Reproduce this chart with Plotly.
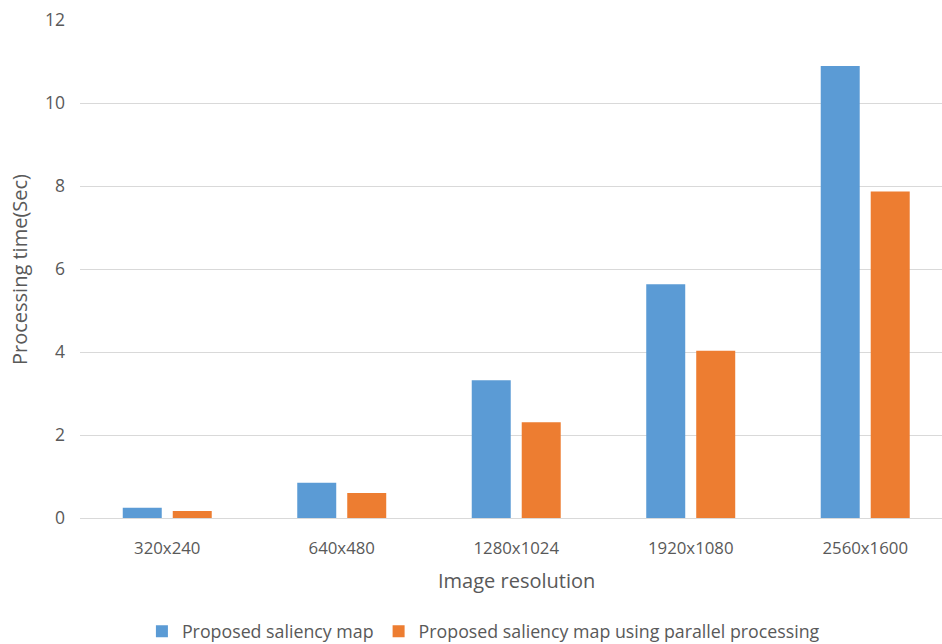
import plotly.graph_objects as go

categories = ["320x240", "640x480", "1280x1024", "1920x1080", "2560x1600"]
saliency = [0.25, 0.85, 3.32, 5.63, 10.89]
saliency_parallel = [0.17, 0.60, 2.31, 4.03, 7.87]

series_names = ["Proposed saliency map", "Proposed saliency map using parallel processing"]
y_ticks = [0, 2, 4, 6, 8, 10, 12]

FONT = "Open Sans"
GRAY = "#595959"

fig = go.Figure()
fig.add_trace(go.Bar(x=categories, y=saliency, name=series_names[0],
                     marker=dict(color="#5b9bd5", line=dict(width=0))))
fig.add_trace(go.Bar(x=categories, y=saliency_parallel, name=series_names[1],
                     marker=dict(color="#ed7d31", line=dict(width=0))))

fig.update_layout(
    width=942, height=644,
    margin=dict(l=80, r=0, t=20, b=126, autoexpand=False),
    plot_bgcolor="white", paper_bgcolor="white",
    font=dict(family=FONT, color=GRAY, size=16),
    barmode="group", bargap=0.427, bargroupgap=0.22,
    showlegend=True,
    legend=dict(orientation="h", x=0.468, xanchor="center",
                yref="container", y=0.019, yanchor="middle",
                font=dict(size=17.8, color=GRAY), itemwidth=30, tracegroupgap=0),
    xaxis=dict(type="category", range=[-0.5, 4.44], showgrid=False,
               showline=False, ticks="", ticklabelstandoff=18,
               tickfont=dict(size=16.8, color=GRAY)),
    yaxis=dict(range=[0, 12], tickvals=y_ticks, showgrid=True, gridcolor="#d9d9d9",
               gridwidth=1, zeroline=True, zerolinecolor="#d9d9d9", zerolinewidth=1,
               showline=False, ticks="", ticklabelstandoff=14,
               tickfont=dict(size=17.5, color=GRAY)),
    annotations=[
        dict(text="Image resolution", x=0.506, y=-0.1245, xref="paper", yref="paper",
             showarrow=False, xanchor="center", yanchor="middle",
             font=dict(size=20, color=GRAY)),
        dict(text="Processing time(Sec)", x=-0.0696, y=0.498, xref="paper", yref="paper",
             showarrow=False, xanchor="center", yanchor="middle", textangle=-90,
             font=dict(size=20, color=GRAY)),
    ],
)

fig.write_html("out.html")
